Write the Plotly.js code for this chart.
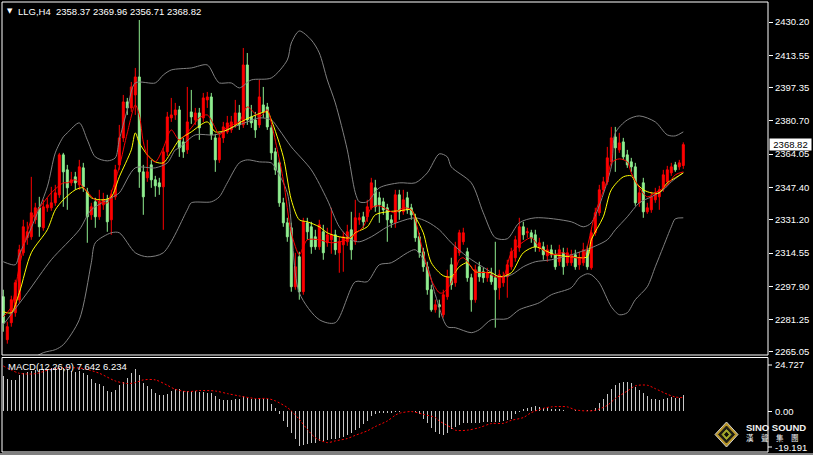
<!DOCTYPE html>
<html><head><meta charset="utf-8">
<script src="https://cdn.plot.ly/plotly-3.0.1.min.js"></script>
<style>html,body{margin:0;padding:0;background:#000;overflow:hidden}#chart{width:813px;height:455px}</style>
</head><body><div id="chart"></div>
<script>
// ---------------- DATA (LLG, H4) ----------------
const OPEN = [2292.7,2271.2,2279.7,2284.7,2291.2,2314.7,2322.2,2322.7,2331.2,2337.2,
2327.2,2337.2,2337.2,2339.7,2343.7,2363.7,2356.2,2349.7,2352.7,2348.7,
2357.2,2345.2,2333.7,2340.2,2332.7,2338.7,2341.2,2331.2,2342.7,2358.7,
2372.2,2390.2,2387.2,2393.7,2402.7,2355.2,2352.2,2358.7,2351.2,2349.7,
2347.7,2365.2,2382.2,2383.7,2386.2,2370.2,2366.2,2385.2,2381.2,2384.7,
2382.2,2391.2,2392.7,2372.2,2361.2,2372.2,2375.2,2376.2,2378.7,2384.7,
2378.7,2408.7,2382.7,2381.2,2378.7,2388.7,2387.7,2377.2,2365.2,2359.7,
2339.7,2329.7,2327.2,2297.7,2312.7,2295.2,2329.7,2327.7,2322.7,2317.7,
2325.2,2319.7,2321.2,2323.7,2314.7,2318.7,2320.2,2326.2,2320.2,2331.2,
2332.7,2332.7,2337.2,2347.2,2342.2,2340.2,2337.2,2331.2,2329.7,2343.7,
2335.2,2342.2,2337.2,2332.2,2322.7,2315.2,2307.7,2296.2,2286.2,2288.7,
2283.7,2292.7,2308.7,2299.7,2314.7,2320.2,2315.2,2302.2,2291.2,2307.7,
2305.2,2302.2,2303.7,2302.2,2297.2,2299.7,2302.7,2307.7,2312.2,2317.2,
2327.7,2324.7,2324.7,2323.7,2317.2,2317.7,2313.2,2316.2,2313.7,2310.2,
2314.7,2309.7,2309.7,2313.7,2308.7,2309.7,2316.2,2307.2,2324.7,2334.7,
2346.2,2350.2,2360.2,2372.7,2366.2,2370.2,2363.7,2360.2,2357.7,2339.7,
2349.7,2335.2,2336.2,2341.2,2342.7,2347.2,2350.2,2354.7,2358.7,2357.7,
2358.37];
const HIGH = [2296.2,2280.2,2293.2,2301.2,2318.7,2331.2,2330.2,2352.7,2339.7,2342.7,
2341.2,2342.2,2347.7,2348.7,2364.7,2364.7,2358.7,2355.2,2355.2,2361.2,
2359.7,2347.2,2339.7,2342.2,2346.2,2344.7,2343.7,2346.2,2358.7,2378.7,
2393.7,2392.2,2400.2,2407.2,2431.2,2358.7,2371.2,2361.2,2353.2,2352.2,
2367.2,2385.2,2392.2,2389.7,2388.2,2372.2,2397.7,2396.2,2387.2,2387.2,
2394.7,2395.2,2394.7,2374.2,2374.2,2380.2,2383.2,2383.2,2391.2,2388.7,
2417.2,2414.7,2388.7,2385.2,2401.2,2397.7,2389.7,2378.7,2367.2,2361.2,
2342.2,2332.2,2329.7,2314.7,2315.2,2332.2,2332.2,2330.2,2326.2,2331.2,
2328.7,2327.2,2337.2,2326.2,2322.7,2325.2,2328.7,2335.2,2341.2,2334.7,
2335.2,2341.2,2352.2,2351.2,2345.2,2342.2,2339.2,2333.7,2346.2,2346.2,
2346.2,2345.2,2339.2,2334.2,2324.7,2317.2,2310.2,2298.7,2291.2,2291.2,
2296.2,2306.2,2312.2,2320.2,2326.2,2327.2,2317.2,2304.2,2308.7,2310.2,
2307.2,2307.2,2307.2,2320.2,2306.2,2305.2,2311.2,2317.2,2323.2,2332.2,
2330.2,2327.2,2326.2,2326.2,2322.2,2320.2,2318.7,2318.7,2316.2,2318.7,
2317.2,2317.2,2316.2,2316.2,2315.2,2319.7,2318.2,2326.2,2337.2,2348.7,
2352.7,2367.7,2377.7,2377.7,2374.7,2372.2,2366.2,2362.2,2359.7,2347.2,
2352.2,2339.7,2345.2,2347.2,2348.2,2356.2,2358.2,2359.7,2360.2,2361.2,
2369.96];
const LOW = [2275.2,2269.2,2277.7,2282.7,2289.7,2313.2,2318.7,2321.2,2329.2,2322.7,
2325.7,2335.2,2335.7,2338.2,2342.2,2337.7,2336.2,2348.2,2346.2,2346.2,
2345.2,2319.7,2331.2,2327.2,2331.2,2336.2,2325.2,2323.7,2341.2,2356.2,
2370.2,2383.7,2385.2,2383.7,2347.2,2333.7,2350.2,2347.2,2342.7,2343.7,
2326.2,2363.2,2380.2,2381.2,2362.7,2362.2,2364.2,2379.2,2378.7,2371.2,
2380.2,2387.2,2371.2,2355.2,2359.7,2369.7,2374.2,2374.7,2377.2,2376.2,
2377.2,2378.7,2377.2,2372.2,2377.2,2382.2,2376.2,2361.2,2353.7,2337.7,
2327.7,2320.2,2295.2,2296.2,2291.2,2293.7,2321.2,2314.2,2316.2,2316.2,
2311.2,2317.7,2314.2,2313.7,2304.7,2305.2,2318.2,2311.2,2318.7,2328.7,
2327.2,2330.2,2336.2,2335.2,2329.7,2333.7,2320.2,2327.2,2327.2,2331.2,
2333.7,2334.2,2331.2,2320.2,2312.2,2305.2,2293.7,2285.2,2284.7,2282.2,
2282.2,2291.2,2296.2,2297.7,2313.2,2318.7,2300.2,2285.2,2289.7,2300.2,
2299.7,2300.2,2298.7,2277.2,2291.2,2297.7,2292.2,2306.2,2310.2,2315.2,
2321.2,2322.2,2319.7,2315.2,2315.2,2311.2,2310.2,2312.2,2306.2,2308.2,
2303.7,2308.2,2308.2,2306.2,2306.2,2308.2,2306.2,2306.2,2323.2,2333.2,
2344.7,2348.7,2358.7,2355.2,2364.7,2361.2,2357.2,2355.2,2338.2,2337.7,
2332.2,2334.2,2334.7,2339.7,2336.2,2345.2,2348.7,2353.2,2355.2,2356.2,
2356.71];
const CLOSE = [2279.7,2277.7,2291.2,2299.7,2316.2,2327.7,2325.2,2334.7,2337.2,2327.7,
2337.7,2338.7,2339.7,2344.7,2363.7,2355.2,2347.2,2351.2,2349.7,2357.7,
2347.7,2332.7,2337.7,2332.7,2340.2,2341.2,2330.2,2343.7,2356.2,2372.2,
2390.2,2387.2,2397.7,2402.7,2355.2,2342.7,2355.2,2351.2,2348.2,2347.7,
2365.2,2382.7,2383.7,2386.2,2367.2,2365.2,2380.2,2382.7,2384.7,2377.2,
2392.2,2392.7,2373.7,2361.2,2372.2,2377.7,2379.7,2380.2,2384.7,2378.7,
2408.7,2381.2,2379.7,2376.2,2392.7,2385.2,2377.7,2364.7,2356.2,2339.7,
2329.7,2322.7,2297.7,2307.7,2295.2,2330.2,2325.2,2317.7,2317.7,2328.7,
2314.7,2323.7,2323.7,2316.2,2320.2,2322.7,2325.2,2316.2,2332.2,2332.2,
2330.2,2337.7,2349.7,2337.7,2338.7,2336.2,2331.2,2329.7,2343.7,2335.2,
2341.2,2336.2,2333.7,2322.2,2314.7,2307.7,2296.2,2286.2,2288.7,2287.7,
2293.7,2302.7,2298.7,2317.7,2324.7,2324.7,2302.2,2291.2,2306.2,2302.7,
2302.2,2304.7,2300.2,2296.2,2303.7,2302.7,2308.7,2315.2,2321.2,2327.7,
2323.7,2325.2,2322.2,2317.7,2319.7,2313.7,2316.2,2313.7,2307.7,2316.2,
2307.7,2314.7,2313.7,2307.7,2312.2,2316.2,2307.7,2324.7,2334.7,2346.2,
2350.2,2362.2,2372.2,2367.2,2369.7,2362.7,2358.7,2357.7,2339.7,2344.7,
2335.2,2337.2,2342.7,2344.7,2346.2,2353.7,2356.2,2357.7,2356.2,2359.7,
2368.82];

const UB_I = [0,3,4,7,11,13,15,16,19,21,23,26,28,29,31,33,38,40,42,47,51,53,54,57,59,62,67,71,72,74,77,79,81,83,86,88,89,91,94,99,103,106,109,111,112,117,120,123,126,129,133,142,145,147,152,153,156,159,163,166,168,170];
const UB_V = [2310.2,2308.7,2313.7,2327.2,2347.7,2364.7,2372.7,2374.7,2379.7,2371.2,2362.7,2360.7,2362.2,2371.2,2386.2,2399.7,2399.7,2403.7,2406.2,2407.2,2408.7,2402.2,2399.7,2399.7,2397.2,2401.2,2402.2,2411.2,2419.7,2425.7,2421.2,2414.7,2401.2,2389.7,2366.2,2344.7,2340.2,2340.2,2347.2,2349.7,2349.7,2354.7,2364.2,2362.7,2357.7,2349.7,2334.7,2322.2,2321.7,2329.7,2332.2,2330.2,2327.7,2329.7,2357.7,2374.7,2381.2,2383.2,2380.2,2373.7,2373.2,2375.2];
const MB_I = [0,6,12,19,22,27,29,33,38,41,43,44,48,53,57,61,64,67,69,72,77,81,84,87,89,92,96,99,103,106,109,112,116,121,124,127,130,133,137,142,147,151,153,156,159,162,165,167,170];
const MB_V = [2278.7,2294.7,2311.2,2326.2,2336.2,2342.2,2344.7,2357.2,2357.2,2359.7,2366.2,2367.2,2373.7,2373.7,2377.2,2380.2,2382.2,2381.2,2376.2,2367.7,2356.2,2341.2,2327.7,2321.2,2320.2,2322.7,2327.7,2330.2,2332.2,2330.2,2326.2,2319.7,2312.7,2306.2,2302.7,2303.7,2307.7,2310.2,2311.2,2313.7,2317.2,2321.2,2326.2,2332.7,2339.7,2342.7,2346.2,2350.2,2354.7];
const LB_I = [0,7,10,13,15,19,22,23,27,29,33,36,40,46,47,52,54,56,59,61,64,67,68,71,74,79,83,88,91,94,97,101,103,106,108,111,113,117,119,122,126,129,134,137,142,144,146,147,149,152,154,156,158,161,163,165,167,168,170];
const LB_V = [2247.2,2261.2,2264.7,2266.2,2268.7,2281.2,2309.7,2319.7,2324.7,2324.7,2314.7,2312.7,2314.7,2336.2,2339.7,2340.2,2342.7,2349.7,2359.7,2361.2,2360.2,2359.7,2357.2,2344.7,2294.7,2281.2,2279.7,2300.2,2300.2,2308.7,2309.7,2314.7,2316.2,2307.7,2293.7,2277.7,2277.2,2274.7,2276.2,2281.2,2281.7,2286.2,2289.7,2293.7,2297.2,2302.2,2304.2,2303.7,2299.7,2287.7,2283.7,2284.7,2291.2,2297.7,2307.7,2317.7,2327.7,2331.7,2332.2];
// Moving averages (yellow = slow, red = fast)
const YL_I = [0,2,4,7,11,13,15,18,20,22,25,27,29,32,33,34,36,38,40,42,44,47,51,53,56,59,62,66,67,70,72,74,76,79,81,84,87,88,91,93,96,99,102,103,105,107,110,112,114,116,118,122,124,127,130,133,135,138,142,146,147,150,152,155,157,158,160,162,164,166,168,170];
const YL_V = [2285.2,2284.7,2294.7,2314.7,2326.2,2336.2,2341.2,2346.2,2347.2,2342.2,2341.2,2342.7,2352.7,2366.2,2374.7,2369.7,2363.7,2360.2,2359.7,2365.2,2371.2,2375.2,2380.2,2375.2,2376.2,2379.7,2382.7,2385.2,2381.2,2362.7,2341.2,2331.2,2330.2,2327.7,2324.7,2322.7,2322.2,2324.7,2327.7,2333.7,2335.2,2335.7,2336.2,2332.7,2324.7,2309.7,2303.2,2302.7,2307.7,2309.7,2305.2,2304.7,2302.7,2304.7,2314.7,2317.7,2316.2,2313.7,2312.7,2312.7,2321.2,2332.7,2346.2,2352.7,2353.2,2350.2,2346.2,2344.7,2344.7,2349.7,2352.2,2354.7];
const RD_I = [0,2,4,7,10,12,15,16,18,21,23,26,27,29,31,33,34,35,36,38,40,42,44,47,49,51,53,54,56,59,61,64,66,67,70,72,74,75,76,79,82,86,87,90,92,94,97,98,100,102,103,105,107,109,110,112,114,115,117,118,121,123,125,127,130,132,134,137,140,142,145,146,148,151,152,154,156,157,159,161,163,166,168,170];
const RD_V = [2282.7,2287.7,2307.7,2331.2,2339.7,2344.7,2349.7,2349.7,2351.2,2345.2,2341.2,2339.7,2344.7,2357.7,2374.7,2388.7,2383.7,2370.2,2363.7,2360.2,2367.2,2376.2,2371.2,2377.2,2382.2,2383.7,2377.2,2373.7,2377.7,2380.2,2387.7,2382.7,2386.2,2379.7,2351.2,2324.7,2313.7,2317.7,2321.2,2321.2,2319.7,2321.2,2322.7,2327.7,2337.2,2338.2,2335.2,2334.7,2337.2,2336.2,2331.2,2314.7,2301.2,2294.7,2294.7,2299.7,2311.2,2312.2,2307.7,2305.2,2304.7,2302.7,2302.7,2314.7,2320.2,2322.2,2317.7,2313.7,2314.7,2312.7,2312.2,2317.7,2334.7,2351.2,2359.7,2361.7,2360.2,2354.7,2347.2,2342.7,2344.7,2348.7,2353.7,2355.2];
// MACD(12,26,9)
const MACD_HIST = [16.3,14.8,14.3,14.3,16.7,17.6,18.2,18.7,19.2,19.5,
19.5,19.8,20.2,20.2,20.2,20.2,19.5,18.7,18.2,18.7,
17.9,16.7,14.8,13.2,12.5,11.7,9.3,8.9,9.7,12.0,
13.7,15.6,17.6,19.5,16.7,13.2,11.7,10.4,8.6,7.3,
7.3,8.1,9.3,10.1,10.1,9.3,9.3,9.3,9.3,8.9,
8.9,8.3,8.6,7.0,5.8,5.1,5.1,5.0,5.4,5.4,
7.0,6.2,5.8,5.8,5.4,5.4,5.4,3.1,1.2,-1.6,
-4.7,-7.3,-10.1,-13.2,-16.3,-15.9,-15.6,-15.1,-14.8,-14.0,
-14.0,-13.5,-13.2,-13.2,-12.5,-12.0,-11.4,-10.1,-8.9,-7.8,
-6.2,-4.7,-2.3,-1.6,-1.2,-0.8,-0.8,-0.8,-0.3,-0.3,
-0.2,0.2,-0.2,-0.5,-1.6,-3.6,-5.8,-7.8,-9.8,-10.9,
-11.2,-10.4,-8.6,-7.3,-6.7,-5.8,-5.8,-5.8,-5.8,-5.8,
-5.4,-5.4,-5.1,-5.1,-5.1,-4.7,-4.4,-3.6,-1.6,-0.3,
0.8,1.2,2.0,2.3,2.0,1.6,1.2,1.1,1.1,0.8,
0.3,0.2,0.1,0.3,0.2,0.2,0.3,0.5,1.6,3.9,
5.8,7.8,10.1,12.0,13.2,13.7,13.5,13.2,11.4,9.7,
8.3,7.0,5.8,5.4,5.1,5.4,6.2,6.7,6.2,6.2,
7.642];
const SG_I = [0,4,8,12,16,20,24,28,31,33,35,38,41,43,46,49,53,56,59,63,66,68,71,72,74,76,78,81,83,86,88,91,93,96,98,99,102,105,108,109,112,113,116,119,122,125,127,130,132,135,137,141,143,146,148,151,153,156,158,161,163,166,168,170];
const SG_V = [21.0,17.6,17.4,19.5,20.2,19.8,17.6,14.0,12.8,13.2,14.5,14.5,12.0,10.1,9.0,9.5,9.3,8.1,7.0,5.8,5.8,4.7,1.6,0,-3.9,-8.6,-12.5,-14.8,-14.0,-12.9,-11.4,-9.3,-7.3,-4.7,-2.0,-1.1,-0.3,-1.6,-3.1,-4.7,-7.8,-9.0,-9.0,-7.8,-5.9,-5.8,-4.4,-3.1,-0.8,1.2,1.9,1.9,0.5,0,0.3,2.6,5.8,9.3,11.7,12.0,10.4,7.8,6.5,6.234];
// axis labels
const PRICE_TICKS = [2430.20,2413.55,2397.35,2380.70,2364.05,2347.40,2331.20,2314.55,2297.90,2281.25,2265.05];
const MACD_MAX = 24.727, MACD_MIN = -19.191;
const SYMBOL = 'LLG,H4';
const LAST = {o:'2358.37', h:'2369.96', l:'2356.71', c:'2368.82'};
const MACD_VALS = {main:'7.642', signal:'6.234'};

// ---------------- CHART ----------------
const BARS = OPEN.map((_, i) => i);
const W = 813, H = 455, ML = 2, MR = 45, MT = 2, MB = 3;
const PW = W - ML - MR, PH = H - MT - MB;
const px = x => (x - ML) / PW;
const py = y => (H - MB - y) / PH;
const FONT = 'Liberation Sans, Arial, sans-serif';
const GREEN = '#90EE90', RED = '#FF0000', GRAY = '#808080';

const traces = [
  {type:'candlestick', x:BARS, open:OPEN, high:HIGH, low:LOW, close:CLOSE,
   increasing:{line:{color:RED, width:1}, fillcolor:RED},
   decreasing:{line:{color:GREEN, width:1}, fillcolor:GREEN},
   whiskerwidth:0, xaxis:'x', yaxis:'y', hoverinfo:'skip'},
  {type:'scatter', mode:'lines', x:UB_I, y:UB_V, line:{color:GRAY, width:1, shape:'spline', smoothing:0.8}, xaxis:'x', yaxis:'y'},
  {type:'scatter', mode:'lines', x:MB_I, y:MB_V, line:{color:GRAY, width:1, shape:'spline', smoothing:0.8}, xaxis:'x', yaxis:'y'},
  {type:'scatter', mode:'lines', x:LB_I, y:LB_V, line:{color:GRAY, width:1, shape:'spline', smoothing:0.8}, xaxis:'x', yaxis:'y'},
  {type:'scatter', mode:'lines', x:YL_I, y:YL_V, line:{color:'#FFFF00', width:1, shape:'spline', smoothing:0.8}, xaxis:'x', yaxis:'y'},
  {type:'scatter', mode:'lines', x:RD_I, y:RD_V, line:{color:RED, width:1, shape:'spline', smoothing:0.8}, xaxis:'x', yaxis:'y'},
  {type:'bar', x:BARS, y:MACD_HIST, width:0.28, marker:{color:'#C8C8C8', line:{width:0}}, xaxis:'x', yaxis:'y2'},
  {type:'scatter', mode:'lines', x:SG_I, y:SG_V, line:{color:RED, width:1, dash:'2px,2px', shape:'spline', smoothing:0.8}, xaxis:'x', yaxis:'y2'}
];

const mainBottom = py(355), macdTop = py(358);
const shapes = [
  {type:'rect', xref:'paper', yref:'paper', x0:0, x1:1, y0:mainBottom, y1:1, line:{color:'#fff', width:1}},
  {type:'rect', xref:'paper', yref:'paper', x0:0, x1:1, y0:0, y1:py(357.5), line:{color:'#fff', width:1}},
  {type:'line', xref:'paper', yref:'paper', x0:px(0), x1:px(813), y0:py(454), y1:py(454), line:{color:'#fff', width:1}},
  {type:'line', xref:'paper', yref:'paper', x0:1, x1:px(772), y0:py(365), y1:py(365), line:{color:'#fff', width:1}},
  {type:'line', xref:'paper', yref:'paper', x0:1, x1:px(772), y0:py(411.5), y1:py(411.5), line:{color:'#fff', width:1}},
  {type:'line', xref:'paper', yref:'paper', x0:1, x1:px(772), y0:py(447), y1:py(447), line:{color:'#fff', width:1}}
];
// logo diamond
function diamond(cx, cy, rx, ry, fill, lc) {
  return {type:'path', xref:'paper', yref:'paper',
    path:`M ${px(cx)} ${py(cy-ry)} L ${px(cx+rx)} ${py(cy)} L ${px(cx)} ${py(cy+ry)} L ${px(cx-rx)} ${py(cy)} Z`,
    fillcolor:fill, line:{color:lc || fill, width:1}};
}
shapes.push(diamond(726.5, 434.5, 11.5, 12.5, '#b8962a', '#d0d0d0'));
shapes.push(diamond(726.5, 434.5, 8, 8.5, '#1c1c12'));
shapes.push(diamond(726.5, 434.5, 4.5, 5, '#a4ac2c'));
shapes.push(diamond(726.5, 434.5, 2, 2.2, '#101008'));

const txt = (t, x, y, opts) => Object.assign({text:t, xref:'paper', yref:'paper', x:px(x), y:py(y),
  xanchor:'left', yanchor:'middle', showarrow:false, font:{family:FONT, size:9.5, color:'#fff'}}, opts || {});
const annotations = [
  txt('\u25BC', 5, 11, {font:{family:'DejaVu Sans', size:7, color:'#fff'}}),
  txt(`${SYMBOL}  ${LAST.o} ${LAST.h} ${LAST.l} ${LAST.c}`, 16, 11),
  txt(`MACD(12,26,9) ${MACD_VALS.main} ${MACD_VALS.signal}`, 6, 366),
  txt(MACD_MAX.toFixed(3), 773, 364),
  txt('0.00', 773, 411),
  txt(MACD_MIN.toFixed(3), 773, 447.5),
  {text:LAST.c, xref:'paper', yref:'y', x:px(769), y:parseFloat(LAST.c), xanchor:'left', yanchor:'middle',
   showarrow:false, bgcolor:'#fff', width:40, height:10, borderpad:0.5, align:'center',
   font:{family:FONT, size:9.5, color:'#000'}},
  txt('<b>SINO SOUND</b>', 744, 427.5, {font:{family:FONT, size:9.5, color:'#f2f2f2'}}),
  txt('漢\u3000聲\u3000集\u3000團', 744, 437.5, {font:{family:'Noto Sans CJK TC', size:7.5, color:'#f2f2f2'}})
];

const layout = {
  width:W, height:H, margin:{l:ML, r:MR, t:MT, b:MB, pad:0},
  paper_bgcolor:'#000', plot_bgcolor:'#000', showlegend:false, hovermode:false,
  xaxis:{range:[(ML - 3.3)/4, (ML + PW - 3.3)/4], showgrid:false, zeroline:false, showticklabels:false,
         ticks:'', showline:false, rangeslider:{visible:false}, anchor:'y2'},
  yaxis:{domain:[mainBottom, 1], range:[2430.2 - (355-22)*0.5005, 2430.2 + 20*0.5005], side:'right', anchor:'x',
         tickvals:PRICE_TICKS, ticktext:PRICE_TICKS.map(v => v.toFixed(2)),
         tickfont:{family:FONT, size:9.5, color:'#fff'}, ticks:'outside', ticklen:4, tickcolor:'#fff', tickwidth:1,
         showgrid:false, zeroline:false, showline:false},
  yaxis2:{domain:[0, macdTop], range:[MACD_MIN, MACD_MAX], side:'right', anchor:'x',
          showticklabels:false, ticks:'', showgrid:false, zeroline:false, showline:false},
  shapes:shapes, annotations:annotations, bargap:0
};
Plotly.newPlot('chart', traces, layout, {staticPlot:true, displayModeBar:false});
</script>
</body></html>
